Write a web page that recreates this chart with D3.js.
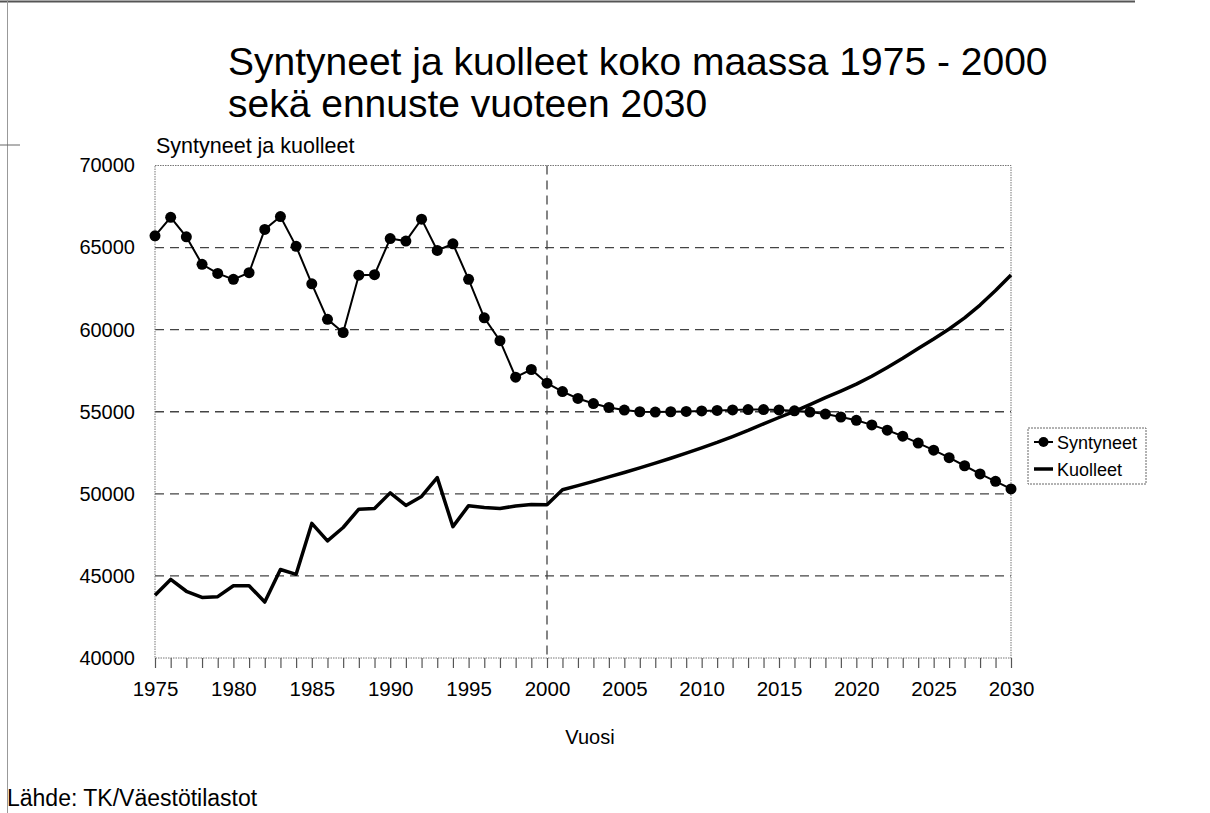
<!DOCTYPE html>
<html><head><meta charset="utf-8">
<script src="https://cdn.jsdelivr.net/npm/d3@7"></script>
<style>
html,body{margin:0;padding:0;background:#fff;}
svg{display:block;font-family:"Liberation Sans",Arial,sans-serif;}
</style></head>
<body>
<svg id="c" width="1210" height="813"></svg>
<script>
const years = d3.range(1975, 2031);
const births = [65719,66846,65659,63983,63428,63064,63469,66106,66892,65076,
  62796,60632,59827,63316,63348,65549,65395,66731,64826,65231,
  63067,60723,59329,57108,57574,56742,
  56230,55810,55500,55260,55100,55000,54980,55000,55020,55050,
  55080,55110,55130,55130,55110,55060,54980,54860,54680,54480,
  54200,53880,53510,53090,52660,52200,51710,51210,50760,50300];
const deaths = [43828,44786,44065,43692,43738,44398,44404,43408,45388,45098,
  48198,47135,47949,49063,49110,50058,49294,49844,50988,48000,
  49280,49167,49108,49262,49345,49339,
  50250,50500,50760,51030,51300,51580,51870,52170,52480,52800,
  53130,53490,53860,54260,54650,55020,55430,55860,56260,56680,
  57160,57700,58260,58850,59430,60040,60720,61500,62380,63330];
const yTicks = [40000,45000,50000,55000,60000,65000,70000];
const xLabelYears = [1975,1980,1985,1990,1995,2000,2005,2010,2015,2020,2025,2030];
const seriesNames = ["Syntyneet","Kuolleet"];
const titleLines = ["Syntyneet ja kuolleet koko maassa 1975 - 2000","sekä ennuste vuoteen 2030"];

const svg = d3.select("#c");
const L = 155, R = 1011, T = 165.5, B = 658;
const x = d3.scaleLinear().domain([1975, 2000, 2030]).range([L, 547, R]);
const y = d3.scaleLinear().domain([40000, 70000]).range([B, T]);

// page frame
svg.append("line").attr("x1",0).attr("x2",1135).attr("y1",1.5).attr("y2",1.5).attr("stroke","#555").attr("stroke-width",2);
svg.append("line").attr("x1",7.5).attr("x2",7.5).attr("y1",0).attr("y2",813).attr("stroke","#999").attr("stroke-width",1);
svg.append("line").attr("x1",0).attr("x2",20).attr("y1",145).attr("y2",145).attr("stroke","#666").attr("stroke-width",1);

// title
svg.append("g").selectAll("text").data(titleLines).join("text")
  .attr("x",228).attr("y",(d,i)=>75+i*42).attr("font-size",39).attr("fill","#000").text(d=>d);

// gridlines
svg.append("g").selectAll("line").data(yTicks.filter(v=>v>40000 && v<70000)).join("line")
  .attr("x1",L).attr("x2",R).attr("y1",d=>y(d)).attr("y2",d=>y(d))
  .attr("stroke","#444").attr("stroke-width",1.3).attr("stroke-dasharray","9,6");
// 2000 vertical
svg.append("line").attr("x1",x(2000)).attr("x2",x(2000)).attr("y1",T).attr("y2",B)
  .attr("stroke","#444").attr("stroke-width",1.3).attr("stroke-dasharray","9,6");

// plot border (dotted)
svg.append("rect").attr("x",L).attr("y",T).attr("width",R-L).attr("height",B-T)
  .attr("fill","none").attr("stroke","#777").attr("stroke-width",1).attr("stroke-dasharray","1.5,1");

// x axis
const xAxis = d3.axisBottom(x).tickValues(years).tickSize(10).tickFormat(d=>xLabelYears.includes(d)?d:"");
const gx = svg.append("g").attr("transform",`translate(0,${B})`).call(xAxis);
gx.select(".domain").remove();
gx.selectAll(".tick line").attr("stroke","#555").attr("stroke-width",1.2);
gx.selectAll(".tick text").attr("font-size",20.5).attr("fill","#000").attr("font-family","Liberation Sans, Arial, sans-serif").attr("dy","0").attr("y",38);

// y axis
const yAxis = d3.axisLeft(y).tickValues(yTicks).tickSize(0).tickFormat(d3.format("d"));
const gy = svg.append("g").attr("transform",`translate(${L},0)`).call(yAxis);
gy.select(".domain").remove();
gy.selectAll(".tick text").attr("font-size",20).attr("fill","#000").attr("font-family","Liberation Sans, Arial, sans-serif").attr("x",-20);

// axis titles
svg.append("text").attr("x",156).attr("y",153).attr("font-size",21.5).text("Syntyneet ja kuolleet");
svg.append("text").attr("x",590).attr("y",744).attr("text-anchor","middle").attr("font-size",20).text("Vuosi");
svg.append("text").attr("x",7).attr("y",806).attr("font-size",23).text("Lähde: TK/Väestötilastot");

// series
const lineB = d3.line().x((d,i)=>x(years[i])).y(d=>y(d));
svg.append("path").datum(deaths).attr("d",lineB).attr("fill","none").attr("stroke","#000").attr("stroke-width",3.5).attr("stroke-linejoin","round");
svg.append("path").datum(births).attr("d",lineB).attr("fill","none").attr("stroke","#000").attr("stroke-width",2);
svg.append("g").selectAll("circle").data(births).join("circle")
  .attr("cx",(d,i)=>x(years[i])).attr("cy",d=>y(d)).attr("r",5.5).attr("fill","#000");

// legend
const lg = svg.append("g").attr("transform","translate(1028,428)");
lg.append("rect").attr("x",0).attr("y",0).attr("width",118).attr("height",56)
  .attr("fill","#fff").attr("stroke","#666").attr("stroke-width",1).attr("stroke-dasharray","2,1");
const items = lg.selectAll("g").data(seriesNames).join("g").attr("transform",(d,i)=>`translate(0,${14+i*27})`);
items.append("line").attr("x1",6).attr("x2",25).attr("y1",0).attr("y2",0).attr("stroke","#000").attr("stroke-width",(d,i)=>i===0?2:3.5);
items.filter((d,i)=>i===0).append("circle").attr("cx",15.5).attr("cy",0).attr("r",5).attr("fill","#000");
items.append("text").attr("x",29).attr("y",6.5).attr("font-size",18).text(d=>d);
</script>
</body></html>
